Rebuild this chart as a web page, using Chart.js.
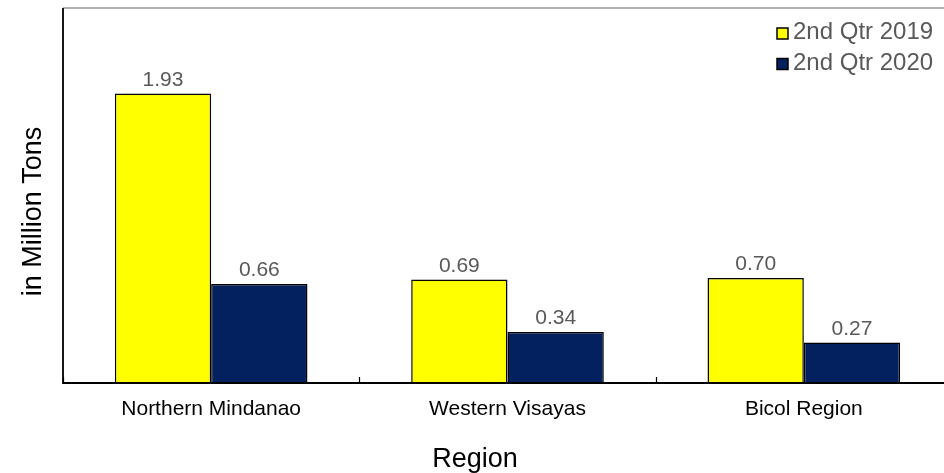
<!DOCTYPE html>
<html>
<head>
<meta charset="utf-8">
<script src="https://cdn.jsdelivr.net/npm/chart.js@4/dist/chart.umd.min.js"></script>
<style>
html,body{margin:0;padding:0;background:#fff;overflow:hidden;}
#wrap{width:952px;height:473px;position:relative;}
</style>
</head>
<body>
<div id="wrap"><canvas id="c"></canvas></div>
<script>
const categories = ["Northern Mindanao", "Western Visayas", "Bicol Region"];
const seriesNames = ["2nd Qtr 2019", "2nd Qtr 2020"];
const values2019 = [1.93, 0.69, 0.70];
const values2020 = [0.66, 0.34, 0.27];
const yTitle = "in Million Tons";
const xTitle = "Region";

const FONT = "'Liberation Sans', Arial, sans-serif";

const decorPlugin = {
  id: 'decor',
  afterDatasetsDraw(chart) {
    const ctx = chart.ctx;
    const ca = chart.chartArea;
    const xs = chart.scales.x;
    ctx.save();
    // top border
    ctx.strokeStyle = '#b0b0b0';
    ctx.lineWidth = 2;
    ctx.beginPath();
    ctx.moveTo(ca.left, ca.top);
    ctx.lineTo(ca.right + 2, ca.top);
    ctx.stroke();
    // axes
    ctx.strokeStyle = '#000';
    ctx.lineWidth = 1.8;
    ctx.beginPath();
    ctx.moveTo(ca.left, ca.top);
    ctx.lineTo(ca.left, ca.bottom);
    ctx.lineTo(ca.right, ca.bottom);
    ctx.stroke();
    // inner tick marks at category boundaries
    ctx.lineWidth = 1.2;
    const n = categories.length;
    for (let i = 0; i <= n; i++) {
      let x;
      if (i === 0) x = ca.left;
      else if (i === n) x = ca.right;
      else x = (xs.getPixelForTick(i - 1) + xs.getPixelForTick(i)) / 2;
      ctx.beginPath();
      ctx.moveTo(Math.round(x) + 0.5, ca.bottom);
      ctx.lineTo(Math.round(x) + 0.5, ca.bottom - 6);
      ctx.stroke();
    }
    // data labels
    ctx.fillStyle = '#595959';
    ctx.font = '21px ' + FONT;
    ctx.textAlign = 'center';
    ctx.textBaseline = 'alphabetic';
    chart.data.datasets.forEach((ds, di) => {
      const meta = chart.getDatasetMeta(di);
      meta.data.forEach((bar, i) => {
        ctx.fillText(ds.data[i].toFixed(2), bar.x, bar.y - 8);
      });
    });
    // legend
    ctx.font = '24px ' + FONT;
    ctx.textAlign = 'left';
    ctx.textBaseline = 'alphabetic';
    chart.data.datasets.forEach((ds, di) => {
      const y = 28 + di * 30.5;
      ctx.fillStyle = ds.backgroundColor;
      ctx.fillRect(777, y, 11, 11);
      ctx.strokeStyle = '#000';
      ctx.lineWidth = 1.5;
      ctx.strokeRect(777, y, 11, 11);
      ctx.fillStyle = '#595959';
      ctx.fillText(ds.label, 793, y + 11);
    });
    // axis titles
    ctx.fillStyle = '#000';
    ctx.font = '27px ' + FONT;
    ctx.textAlign = 'center';
    ctx.textBaseline = 'alphabetic';
    ctx.fillText(xTitle, 475, 467);
    ctx.save();
    ctx.translate(41, 211.5);
    ctx.rotate(-Math.PI / 2);
    ctx.fillText(yTitle, 0, 0);
    ctx.restore();
    ctx.restore();
  }
};

new Chart(document.getElementById('c'), {
  type: 'bar',
  data: {
    labels: categories,
    datasets: [
      { label: seriesNames[0], data: values2019, backgroundColor: '#FFFF00', borderColor: '#000', borderWidth: 1.5 },
      { label: seriesNames[1], data: values2020, backgroundColor: '#03215E', borderColor: '#000', borderWidth: 1.5 }
    ]
  },
  options: {
    responsive: true,
    maintainAspectRatio: false,
    animation: false,
    layout: { padding: { top: 8, right: 0, left: 0, bottom: 0 } },
    plugins: { legend: { display: false }, tooltip: { enabled: false } },
    datasets: { bar: { categoryPercentage: 0.65, barPercentage: 1.0 } },
    scales: {
      x: {
        grid: { display: false, drawTicks: false },
        border: { display: false },
        ticks: { color: '#000', font: { family: FONT, size: 21 }, padding: 14, maxRotation: 0, autoSkip: false },
        title: { display: false },
        afterFit: (s) => { s.height = 90; }
      },
      y: {
        min: 0, max: 2.5,
        grid: { display: false, drawTicks: false },
        border: { display: false },
        ticks: { display: false },
        title: { display: false },
        afterFit: (s) => { s.width = 63; }
      }
    }
  },
  plugins: [decorPlugin]
});
</script>
</body>
</html>
